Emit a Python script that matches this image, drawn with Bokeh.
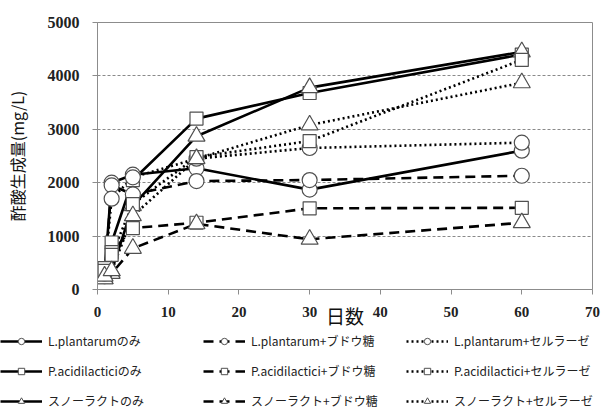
from bokeh.plotting import figure
from bokeh.layouts import column
from bokeh.models import Range1d, SingleIntervalTicker, Legend, LegendItem
from bokeh.embed import file_html
from bokeh.resources import INLINE

# Sampling days
days = [1, 2, 5, 14, 30, 60]

# Acetic acid produced (mg/L)
lp_only = [300, 2000, 2150, 2270, 1870, 2600]
lp_glucose = [250, 1950, 1780, 2030, 2050, 2130]
lp_cellulase = [300, 1700, 2100, 2450, 2650, 2750]
pa_only = [400, 880, 2050, 3200, 3680, 4400]
pa_glucose = [300, 700, 1150, 1250, 1520, 1530]
pa_cellulase = [350, 650, 1600, 2480, 2780, 4300]
sn_only = [200, 350, 1570, 2870, 3780, 4450]
sn_glucose = [200, 300, 770, 1230, 940, 1250]
sn_cellulase = [250, 350, 1380, 2450, 3080, 3870]

labels = [
    "L.plantarumのみ", "P.acidilacticiのみ", "スノーラクトのみ",
    "L.plantarum+ブドウ糖", "P.acidilactici+ブドウ糖", "スノーラクト+ブドウ糖",
    "L.plantarum+セルラーゼ", "P.acidilactici+セルラーゼ", "スノーラクト+セルラーゼ",
]
series = [lp_only, pa_only, sn_only,
          lp_glucose, pa_glucose, sn_glucose,
          lp_cellulase, pa_cellulase, sn_cellulase]
markers = ["circle", "square", "triangle"] * 3
dashes = ["solid"] * 3 + ["10 6"] * 3 + ["2 3"] * 3
marker_sizes = {"circle": 15, "square": 13, "triangle": 17}

p = figure(width=603, height=332, output_backend="svg", toolbar_location=None,
           x_range=Range1d(0, 70), y_range=Range1d(0, 5000),
           min_border_left=97, min_border_right=11,
           min_border_top=22, min_border_bottom=43)
p.frame_align = False

p.xaxis.ticker = SingleIntervalTicker(interval=10)
p.yaxis.ticker = SingleIntervalTicker(interval=1000)
p.xgrid.visible = False
p.ygrid.grid_line_color = "#8a8a8a"
p.ygrid.grid_line_dash = "3 2"
p.ygrid.grid_line_width = 1
p.outline_line_color = "#8c8c8c"
p.axis.axis_line_color = "#8c8c8c"
p.axis.major_tick_line_color = "#8c8c8c"
p.axis.minor_tick_line_color = None
p.axis.major_tick_in = 0
p.axis.major_tick_out = 5
p.axis.major_label_text_font = "Liberation Serif"
p.axis.major_label_text_font_style = "bold"
p.axis.major_label_text_color = "#222222"
p.xaxis.major_label_text_font_size = "15px"
p.yaxis.major_label_text_font_size = "16px"
p.xaxis.major_label_standoff = 12
p.yaxis.major_label_standoff = 13

p.yaxis.axis_label = "酢酸生成量(mg/L)"
p.yaxis.axis_label_text_font = "Noto Sans CJK JP"
p.yaxis.axis_label_text_font_style = "normal"
p.yaxis.axis_label_text_font_size = "16px"
p.yaxis.axis_label_text_color = "#111111"
p.yaxis.axis_label_standoff = 16

p.xaxis.axis_label = "日数"
p.xaxis.axis_label_text_font = "Noto Sans CJK JP"
p.xaxis.axis_label_text_font_style = "normal"
p.xaxis.axis_label_text_font_size = "19px"
p.xaxis.axis_label_text_color = "#111111"
p.xaxis.axis_label_standoff = -18

# lines first, markers on top
for vals, dash in zip(series, dashes):
    p.line(days, vals, line_color="black", line_width=2.6, line_dash=dash)
for vals, m in zip(series, markers):
    p.scatter(days, vals, marker=m, size=marker_sizes[m],
              fill_color="white", line_color="#505050", line_width=1.2)

# legend strip under the chart; its sample glyphs sit outside the strip's ranges
leg = figure(width=603, height=80, output_backend="svg", toolbar_location=None,
             x_range=Range1d(0, 1), y_range=Range1d(0, 1),
             x_axis_location=None, y_axis_location=None,
             min_border_left=0, min_border_right=0,
             min_border_top=0, min_border_bottom=0,
             outline_line_color=None)
leg.frame_align = False
leg.grid.visible = False
items = []
for lab, m, dash in zip(labels, markers, dashes):
    lr = leg.line(x=[-5, -4], y=[-5, -5], line_color="black", line_width=2.6,
                  line_dash=dash)
    mr = leg.scatter(x=[-5], y=[-5], marker=m, size=8,
                     fill_color="white", line_color="#505050", line_width=1)
    items.append(LegendItem(label=lab, renderers=[lr, mr]))
legend = Legend(items=items, nrows=3, location="top_left",
                glyph_width=42, glyph_height=16, label_standoff=6,
                label_width=142, spacing=13, padding=0, margin=0,
                label_text_font="Noto Sans CJK JP", label_text_font_size="12px",
                label_text_color="#222222",
                border_line_alpha=0, background_fill_alpha=0)
leg.add_layout(legend, "center")

open("out.html", "w").write(file_html(column(p, leg, spacing=0), INLINE))
